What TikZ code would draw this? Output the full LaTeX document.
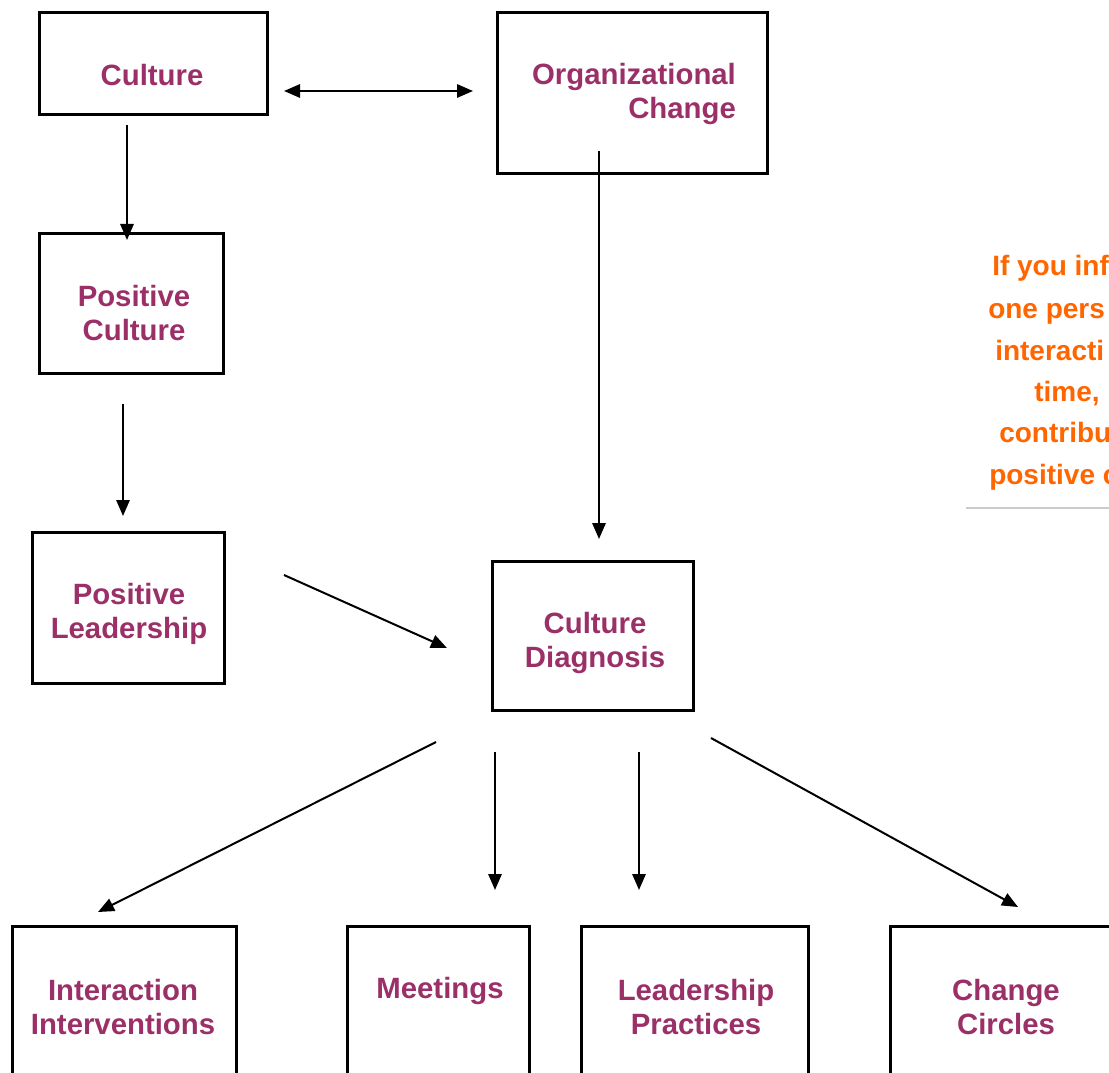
\documentclass[tikz,border=0pt]{standalone}
\usepackage{fontspec}
\setmainfont{Liberation Sans}
\usetikzlibrary{arrows.meta}
\definecolor{plum}{RGB}{155,48,104}
\definecolor{orng}{RGB}{255,102,0}
\begin{document}
\begin{tikzpicture}[x=0.75pt,y=-0.75pt,
  box/.style={draw=black,line width=1.9pt,inner sep=0pt,anchor=north west},
  lbl/.style={text=plum,font=\fontsize{22}{26}\selectfont\bfseries,align=center,inner sep=0pt},
  note/.style={text=orng,font=\fontsize{21}{24}\selectfont\bfseries,anchor=base west,inner sep=0pt},
  arr/.style={line width=1.5pt,-{Triangle[length=12pt,width=10pt]}},
  darr/.style={line width=1.5pt,{Triangle[length=12pt,width=10pt]}-{Triangle[length=12pt,width=10pt]}}]
\useasboundingbox (0,0) rectangle (1109,1073);
\clip (0,0) rectangle (1109,1073);
\fill[white] (0,0) rectangle (1109,1073);
% boxes
\node[box,minimum width=228*0.75pt,minimum height=102*0.75pt] (cult) at (38,11) {};
\node[box,minimum width=270*0.75pt,minimum height=161*0.75pt] (org) at (496,11) {};
\node[box,minimum width=184*0.75pt,minimum height=140*0.75pt] (pcult) at (38,232) {};
\node[box,minimum width=192*0.75pt,minimum height=151*0.75pt] (plead) at (31,531) {};
\node[box,minimum width=201*0.75pt,minimum height=149*0.75pt] (diag) at (491,560) {};
\node[box,minimum width=224*0.75pt,minimum height=180*0.75pt] (inter) at (11,925) {};
\node[box,minimum width=182*0.75pt,minimum height=180*0.75pt] (meet) at (346,925) {};
\node[box,minimum width=227*0.75pt,minimum height=180*0.75pt] (lprac) at (580,925) {};
\node[box,minimum width=240*0.75pt,minimum height=180*0.75pt] (circ) at (889,925) {};
% labels
\node[lbl] (cultT) at (152,75) {Culture};
\node[lbl,align=right] (orgT) at (634,94) {Organizational\\Change};
\node[lbl] (pcultT) at (134,313) {Positive\\Culture};
\node[lbl] (pleadT) at (129,614) {Positive\\Leadership};
\node[lbl] (diagT) at (595,643) {Culture\\Diagnosis};
\node[lbl] (interT) at (123,1007) {Interaction\\Interventions};
\node[lbl] (meetT) at (440,991) {Meetings};
\node[lbl] (lpracT) at (696,1007) {Leadership\\Practices};
\node[lbl] (circT) at (1006,1007) {Change\\Circles};
% note
\node[note] (n1) at (992,276) {If you inf};
\node[note] (n2) at (988,318) {one pers};
\node[note] (n3) at (995,360) {interacti};
\node[note] (n4) at (1034,401) {time,};
\node[note] (n5) at (999,442) {contribu};
\node[note] (n6) at (989,484) {positive c};
\coordinate (r1) at (966,508);
\coordinate (r2) at (1109,508);
\draw[line width=2.2pt,black!20] (r1) -- (r2);
% connector end points
\coordinate (a1) at (284,91);   \coordinate (a2) at (473,91);
\coordinate (b1) at (127,125);  \coordinate (b2) at (127,240);
\coordinate (c1) at (599,151);  \coordinate (c2) at (599,539);
\coordinate (d1) at (123,404);  \coordinate (d2) at (123,516);
\coordinate (e1) at (284,575);  \coordinate (e2) at (447,648);
\coordinate (f1) at (436,742);  \coordinate (f2) at (98,912);
\coordinate (g1) at (495,752);  \coordinate (g2) at (495,890);
\coordinate (h1) at (639,752);  \coordinate (h2) at (639,890);
\coordinate (k1) at (711,738);  \coordinate (k2) at (1018,907);
\draw[darr] (a1) -- (a2);
\draw[arr] (b1) -- (b2);
\draw[arr] (c1) -- (c2);
\draw[arr] (d1) -- (d2);
\draw[arr] (e1) -- (e2);
\draw[arr] (f1) -- (f2);
\draw[arr] (g1) -- (g2);
\draw[arr] (h1) -- (h2);
\draw[arr] (k1) -- (k2);
\end{tikzpicture}
\end{document}
